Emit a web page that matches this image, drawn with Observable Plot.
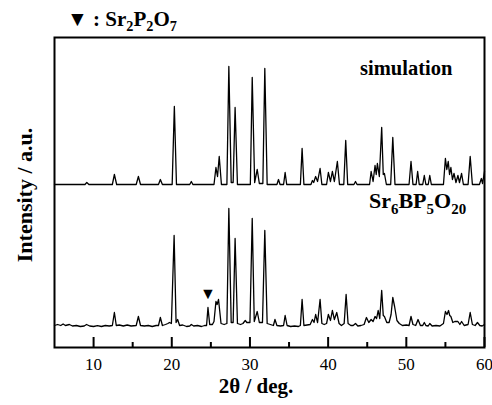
<!DOCTYPE html>
<html><head><meta charset="utf-8">
<script src="https://cdn.jsdelivr.net/npm/d3@7"></script>
<script src="https://cdn.jsdelivr.net/npm/@observablehq/plot@0.6"></script>
<style>body{margin:0;background:#fff}</style>
</head><body><div id="chart"></div>
<script>
// Simulated pattern vertices: 2θ and intensity (a.u., above its own baseline)
const simX = [5,8.9,9.13,9.4,12.4,12.66,12.95,15.45,15.73,16.0,18.3,18.54,18.8,20.05,20.33,20.6,22.3,22.5,22.7,
25.4,25.65,25.85,26.07,26.35,27.05,27.3,27.6,27.85,28.1,28.4,30.05,30.29,30.6,30.93,31.2,31.65,31.9,32.2,
33.45,33.65,33.85,34.3,34.5,34.7,36.45,36.67,36.9,37.8,37.99,38.15,38.4,38.65,38.97,39.2,
39.8,40.03,40.3,40.54,40.8,41.18,41.45,42.0,42.25,42.5,43.3,43.5,43.7,
45.3,45.5,45.75,46.0,46.15,46.3,46.55,46.85,47.05,47.2,47.45,48.0,48.27,48.55,50.35,50.6,50.85,
51.25,51.45,51.65,52.1,52.3,52.5,52.8,53.0,53.2,54.75,55.0,55.18,55.36,55.53,55.7,55.9,56.1,56.35,56.6,56.8,57.07,57.3,
57.9,58.17,58.45,59.35,59.6,59.75,60];
const simY = [0,0,2,0,0,10,0,0,8,0,0,5,0,0,78,0,0,3,0,
0,17,8,28,0,0,118,2,2,77,0,0,107,2,15,1,1,116,0,
0,5,0,0,12,0,0,36,0,0,4,2,8,3,16,0,
0,12,3,13,3,23,0,0,44,0,0,3,0,
0,13,3,19,10,21,8,57,10,11,0,0,47,0,0,23,0,
0,13,0,0,9,0,0,9,0,0,26,15,23,10,17,5,11,2,9,2,11,0,
0,28,0,0,6,1,13];

// Measured pattern vertices
const expX = [5,5.4,5.8,6.1,6.4,6.9,7.3,7.8,8.3,8.8,9.1,9.5,10,10.5,11,11.5,12,12.4,12.66,12.9,13.3,13.8,14.3,14.8,
15.45,15.73,16.0,16.5,17,17.5,18.0,18.3,18.54,18.8,19.2,19.5,19.7,19.95,20.3,20.55,20.75,21.0,21.4,21.9,22.3,22.5,22.8,
23.3,23.8,24.2,24.45,24.63,24.85,25.2,25.4,25.65,25.8,25.98,26.3,26.7,27.05,27.3,27.6,27.85,28.1,28.4,28.8,29.1,29.4,29.6,
30.0,30.29,30.55,30.93,31.2,31.6,31.9,32.2,32.6,33.0,33.2,33.45,33.9,34.3,34.5,34.75,35.2,35.7,36.2,36.45,36.67,36.9,
37.3,37.7,37.99,38.2,38.4,38.65,38.97,39.2,39.5,39.8,40.03,40.3,40.54,40.8,41.1,41.4,41.7,42.05,42.3,42.55,42.9,43.2,43.5,43.8,
44.2,44.6,44.9,45.2,45.5,45.75,46.0,46.2,46.4,46.6,46.85,47.05,47.2,47.5,47.8,48.05,48.27,48.5,48.8,49.1,49.5,50.0,50.35,50.6,50.85,
51.2,51.5,51.8,52.1,52.3,52.5,52.8,53.0,53.3,53.8,54.3,54.75,55.0,55.2,55.4,55.55,55.7,55.95,56.2,56.6,56.85,57.07,57.4,
57.9,58.17,58.45,58.8,59.1,59.4,59.7,60];
const expY = [1,2,1,2.5,1,2,0.5,1,0,0.5,2,0.5,0,0.8,0,1,0.5,1,14,1,1.5,0.5,1.5,0.5,
1,10,1,0.5,1,0,1,1,9,1,2,3,4,3,91,4,7,1,1.5,0,0.5,2,0.5,
1,0,1,1,19,2,2,5,25,22,27,3,2,3,118,4,4,88,3,2,3,6,4,
4,108,5,15,4,4,96,3,2,1,7,1,0.5,1,11,1,0,0.5,0,1,27,1,
1.5,2,7,4,12,4,27,3,2,3,12,6,16,7,14,3,1,3,32,3,1,1,3,0.5,
1,2,9,4,7,5,10,8,16,8,36,11,10,4,4,12,29,20,6,3,1,1.5,1,10,2,
1,7,1,1,4,1,0.5,3,0.5,1,0.5,3,15,12,16,11,10,4,5,5,2,5,1,
2,14,2,1,4,1,0.5,2];

const simOffset = 163, expOffset = 21;
const majorTicks = [10,20,30,40,50,60];
const minorTicks = [15,25,35,45,55];
const impurityPeak = [24.63];

const sim = simX.map((x,i)=>({x, y: simY[i] + simOffset}));
const meas = expX.map((x,i)=>({x, y: expY[i] + expOffset}));
const serif = '"Times New Roman","Liberation Serif",serif';

const chart = Plot.plot({
  width: 492, height: 405,
  marginLeft: 54, marginRight: 8, marginTop: 37, marginBottom: 58,
  style: {fontFamily: serif, background: "#fff"},
  x: {domain: [5, 60]},
  y: {domain: [0, 310], axis: null},
  marks: [
    Plot.line(sim, {x: "x", y: "y", stroke: "#000", strokeWidth: 1.3}),
    Plot.line(meas, {x: "x", y: "y", stroke: "#000", strokeWidth: 1.3}),
    Plot.text(impurityPeak, {x: d => d, y: 54, text: () => "▼", fontSize: 16, fill: "#000"}),
    Plot.axisX({ticks: majorTicks, tickSize: -10, tickPadding: 20, tickFormat: d => String(d), fontSize: 17, fill: "#000", stroke: "#000", strokeWidth: 2, label: null}),
    Plot.axisX({ticks: minorTicks, tickSize: -5, tickFormat: () => "", stroke: "#000", strokeWidth: 2, label: null}),
    Plot.frame({stroke: "#000", strokeWidth: 2})
  ]
});
document.getElementById("chart").appendChild(chart);

const svg = d3.select(chart);
const xs = chart.scale("x"), ys = chart.scale("y");
function formula(x, y, parts, size, anchor) {
  const t = svg.append("text").attr("x", x).attr("y", y)
    .attr("font-family", serif).attr("font-weight", "bold").attr("font-size", size)
    .attr("text-anchor", anchor).attr("fill", "#000");
  let sub = false;
  parts.forEach(p => {
    const isSub = p.sub === true;
    const ts = t.append("tspan").text(p.t);
    if (isSub) ts.attr("font-size", size * 0.68);
    if (isSub !== sub) ts.attr("dy", isSub ? size * 0.25 : -size * 0.25);
    sub = isSub;
  });
  return t;
}
formula(67, 26, [{t:"▼ : Sr"},{t:"2",sub:true},{t:"P"},{t:"2",sub:true},{t:"O"},{t:"7",sub:true}], 21, "start");
formula(xs.apply(50.05), ys.apply(272), [{t:"simulation"}], 20.5, "middle");
formula(xs.apply(51.5), ys.apply(139), [{t:"Sr"},{t:"6",sub:true},{t:"BP"},{t:"5",sub:true},{t:"O"},{t:"20",sub:true}], 22, "middle");
formula(256, 393, [{t:"2θ / deg."}], 21, "middle");
svg.append("text").attr("transform", "translate(32,195) rotate(-90)")
  .attr("font-family", serif).attr("font-weight", "bold").attr("font-size", 22)
  .attr("text-anchor", "middle").attr("fill", "#000").text("Intensity / a.u.");
</script></body></html>
